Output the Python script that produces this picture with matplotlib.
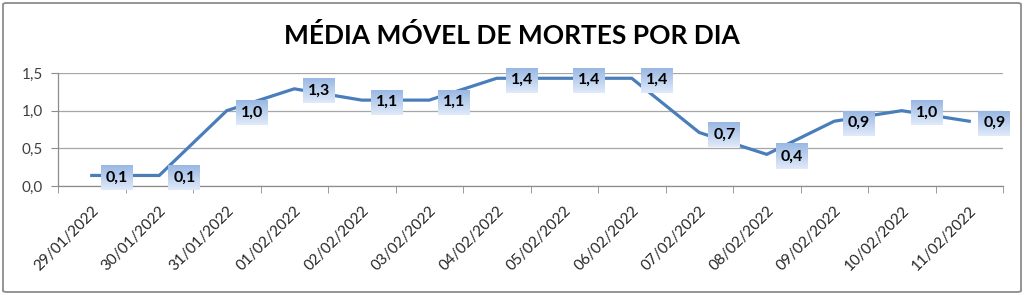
import matplotlib
matplotlib.use("Agg")
import matplotlib.pyplot as plt
import numpy as np
from matplotlib.patches import FancyBboxPatch

plt.rcParams['font.family'] = ['Lato', 'DejaVu Sans']

dates = ["29/01/2022", "30/01/2022", "31/01/2022", "01/02/2022", "02/02/2022",
         "03/02/2022", "04/02/2022", "05/02/2022", "06/02/2022", "07/02/2022",
         "08/02/2022", "09/02/2022", "10/02/2022", "11/02/2022"]
values = [0.14, 0.14, 1.00, 1.29, 1.14, 1.14, 1.43, 1.43, 1.43, 0.71, 0.42, 0.86, 1.00, 0.86]
labels = ["0,1", "0,1", "1,0", "1,3", "1,1", "1,1", "1,4", "1,4", "1,4", "0,7", "0,4", "0,9", "1,0", "0,9"]
yticks = [0.0, 0.5, 1.0, 1.5]
ytick_labels = ["0,0", "0,5", "1,0", "1,5"]
title = "MÉDIA MÓVEL DE MORTES POR DIA"

W, H = 1024, 295
fig = plt.figure(figsize=(W / 100, H / 100), dpi=100)
fig.patch.set_facecolor("white")

# outer border
border = FancyBboxPatch((3 / W, 3 / H), (W - 6) / W, (H - 6) / H,
                        boxstyle="round,pad=0,rounding_size=0.004",
                        transform=fig.transFigure, fill=False,
                        edgecolor="#8c8c8c", linewidth=1.3)
fig.patches.append(border)

ax = fig.add_axes([58 / W, (H - 186) / H, (1003 - 58) / W, (186 - 73) / H])
x = np.arange(len(values))
ax.set_xlim(-0.5, len(values) - 0.5)
ax.set_ylim(0, 1.5)

ax.plot(x, values, color="#4a7ebb", linewidth=2.3, zorder=3, solid_joinstyle="miter")

ax.set_yticks(yticks)
ax.set_yticklabels(ytick_labels, fontsize=11, color="#404040")
ax.yaxis.grid(True, color="#a6a6a6", linewidth=0.9)
ax.set_axisbelow(True)

ax.set_xticks(x)
ax.set_xticklabels(dates, rotation=45, ha="right", rotation_mode="anchor",
                   fontsize=11, color="#262626")
ax.tick_params(axis="x", length=0, pad=13)
ax.set_xticks(np.arange(-0.5, len(values), 1.0), minor=True)
ax.tick_params(axis="x", which="minor", length=5, color="#8c8c8c", direction="out")
ax.tick_params(axis="y", length=5, color="#8c8c8c", direction="out", pad=6)

for s in ["top", "right"]:
    ax.spines[s].set_visible(False)
for s in ["left", "bottom"]:
    ax.spines[s].set_color("#8c8c8c")
    ax.spines[s].set_linewidth(0.9)

fig.text(0.5, (H - 35) / H, title, ha="center", va="center",
         fontsize=19, fontweight="bold", color="black")

# data labels with gradient boxes
texts = []
for xi, yi, lab in zip(x, values, labels):
    t = ax.annotate(lab, (xi, yi), xytext=(25, -2), textcoords="offset pixels",
                    ha="center", va="center", fontsize=11.5, fontweight="bold",
                    color="black", zorder=6, annotation_clip=False)
    texts.append(t)

fig.canvas.draw()
renderer = fig.canvas.get_renderer()
grad = np.linspace(0, 1, 64)[:, None]
top = np.array([0.60, 0.72, 0.89])
bot = np.array([0.88, 0.92, 0.98])
img = top[None, None, :] * (1 - grad[:, :, None]) + bot[None, None, :] * grad[:, :, None]
inv = ax.transData.inverted()
for t in texts:
    bb = t.get_window_extent(renderer)
    cx = (bb.x0 + bb.x1) / 2
    cy = (bb.y0 + bb.y1) / 2
    w, h = 32, 25
    (x0, y0) = inv.transform((cx - w / 2, cy - h / 2))
    (x1, y1) = inv.transform((cx + w / 2, cy + h / 2))
    ax.imshow(img, extent=(x0, x1, y0, y1), aspect="auto", origin="upper",
              zorder=5, interpolation="bilinear", clip_on=False)
ax.set_xlim(-0.5, len(values) - 0.5)
ax.set_ylim(0, 1.5)

fig.savefig("out.png", dpi=100)
